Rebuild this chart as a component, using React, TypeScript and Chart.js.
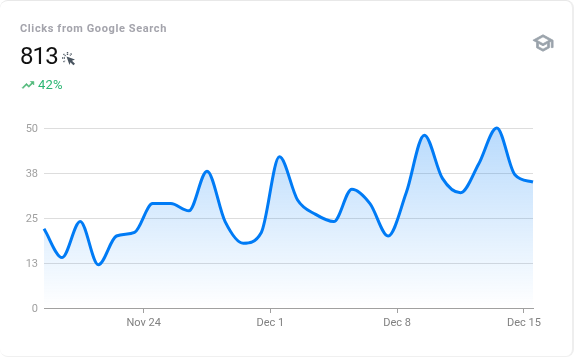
import React, { useEffect, useRef } from "react";
import { Chart, registerables } from "chart.js";

Chart.register(...registerables);

const clicks = [22, 14, 24, 12, 20, 21, 29, 29, 27, 38, 24, 18, 21, 42, 30, 26, 24, 33, 29, 20, 32, 48, 36, 32, 40, 50, 37, 35];
const dayPositions = clicks.map((_, i) => i);
const xTickPositions = [5.5, 12.5, 19.5, 26.5];
const xTickLabels = ["Nov 24", "Dec 1", "Dec 8", "Dec 15"];
const yStep = 12.5;
const yMax = 50;
const LINE = "#007bf5";
const font = "Roboto, sans-serif";

export default function App() {
  const ref = useRef<HTMLCanvasElement>(null);
  useEffect(() => {
    document.body.style.margin = "0";
    const chart = new Chart(ref.current!, {
      type: "line",
      data: {
        labels: dayPositions,
        datasets: [
          {
            data: dayPositions.map((x, i) => ({ x, y: clicks[i] })),
            borderColor: LINE,
            borderWidth: 3,
            pointRadius: 0,
            cubicInterpolationMode: "monotone",
            clip: false as any,
            fill: true,
            backgroundColor: (ctx: any) => {
              const area = ctx.chart.chartArea;
              if (!area) return "rgba(0,123,245,0.25)";
              const g = ctx.chart.ctx.createLinearGradient(0, area.top, 0, area.bottom);
              g.addColorStop(0, "rgba(0,123,245,0.28)");
              g.addColorStop(1, "rgba(0,123,245,0)");
              return g;
            },
          },
        ],
      },
      options: {
        animation: false,
        responsive: false,
        layout: { padding: { top: 128, right: 43, left: 0, bottom: 0 } },
        plugins: { legend: { display: false }, tooltip: { enabled: false } },
        scales: {
          x: {
            type: "linear",
            min: 0,
            max: clicks.length - 1,
            afterFit: (s: any) => { s.height = 50; },
            afterBuildTicks: (s: any) => { s.ticks = xTickPositions.map((value) => ({ value })); },
            border: { color: "#a0a0a0", width: 1 },
            grid: { drawOnChartArea: false, drawTicks: true, tickLength: 5, color: "#a0a0a0" },
            ticks: {
              autoSkip: false,
              maxRotation: 0,
              padding: 4,
              color: "#808080",
              font: { family: font, size: 11 },
              callback: (v: any) => xTickLabels[xTickPositions.indexOf(Number(v))],
            },
          },
          y: {
            min: 0,
            max: yMax,
            afterFit: (s: any) => { s.width = 44; },
            border: { display: false },
            grid: { color: "#dddddd", drawTicks: false },
            ticks: {
              stepSize: yStep,
              padding: 6,
              labelOffset: 1,
              color: "#a0a0a0",
              font: { family: font, size: 11 },
              callback: (v: any) => String(Math.round(Number(v))),
            },
          },
        },
      } as any,
    });
    return () => chart.destroy();
  }, []);

  return (
    <div style={{ position: "relative", width: 576, height: 358, background: "#fff", overflow: "hidden", fontFamily: font }}>
      <div style={{ position: "absolute", left: 0, top: 0, width: 574, height: 357, boxSizing: "border-box", borderTop: "1px solid #e8e8e8", borderRight: "2px solid #eeeeee", borderBottom: "1px solid #f0f0f0", borderRadius: 8 }} />
      <canvas ref={ref} width={576} height={358} style={{ position: "absolute", left: 0, top: 0, display: "block" }} />
      <div style={{ position: "absolute", left: 20, top: 22, fontSize: 11, fontWeight: 700, letterSpacing: 0.62, color: "#a4a4ac", lineHeight: "14px", whiteSpace: "nowrap" }}>Clicks from Google Search</div>
      <div style={{ position: "absolute", left: 20, top: 42, fontSize: 24, letterSpacing: -0.9, color: "#111", lineHeight: "28px" }}>813</div>
      <svg style={{ position: "absolute", left: 61, top: 51 }} width={16} height={16} viewBox="0 0 16 16">
        <path d="M5.5 5.5l8.5 3-3 1.2 3 3-1.6 1.6-3-3L8.5 14z" fill="#4a5560" />
        <path d="M1 7h3M2.5 3l2 2M6.5 1v3M10.5 2.5L9 4.5M2.5 11l1.6-1.4" stroke="#4a5560" strokeWidth="1.4" strokeDasharray="1.2 0.6" fill="none" />
      </svg>
      <svg style={{ position: "absolute", left: 20.5, top: 78 }} width={14} height={14} viewBox="0 0 24 24">
        <path d="M16 6l2.29 2.29-4.88 4.88-4-4L2 16.59 3.41 18l6-6 4 4 6.3-6.29L22 12V6z" fill="#4fb878" stroke="#4fb878" strokeWidth="1" />
      </svg>
      <div style={{ position: "absolute", left: 38, top: 77, fontSize: 13, letterSpacing: 0.25, color: "#2bb673", lineHeight: "16px" }}>42%</div>
      <svg style={{ position: "absolute", left: 532, top: 32 }} width={22} height={22} viewBox="0 0 24 24">
        <path d="M12 3L1 9l4 2.18v6L12 21l7-3.82v-6l2-1.09V17h2V9L12 3zm6.82 6L12 12.72 5.18 9 12 5.28 18.82 9zM17 15.99l-5 2.73-5-2.73v-3.72L12 15l5-2.73v3.72z" fill="#9aa3ab" stroke="#9aa3ab" strokeWidth="0.9" />
      </svg>
    </div>
  );
}
